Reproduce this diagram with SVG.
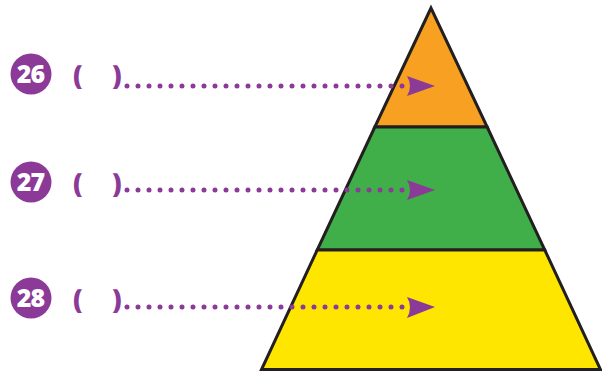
<svg xmlns="http://www.w3.org/2000/svg" width="602" height="371" viewBox="0 0 602 371">
<style>
.num{fill:#8B3A97}
.numt{font-family:"Open Sans","Liberation Sans",sans-serif;font-weight:800;font-size:25px;fill:#fff;text-anchor:middle;letter-spacing:-1px}
.par{font-family:"Open Sans","Liberation Sans",sans-serif;font-weight:800;font-size:27px;fill:#8B3A97}
.band{stroke:#231F20;stroke-width:3;stroke-linejoin:miter}
.dots{stroke:#8B3A97;stroke-width:5;stroke-linecap:round;stroke-dasharray:0 11;fill:none}
.head{fill:#8B3A97}
</style>
<rect width="602" height="371" fill="#fff"/>
<g id="pyramid">
  <g id="tier-top"><polygon class="band" points="431,8 374.8,127 487.2,127" fill="#F7A021"/></g>
  <g id="tier-middle"><polygon class="band" points="374.8,127 487.2,127 544.8,250 317.2,250" fill="#40AE49"/></g>
  <g id="tier-bottom"><polygon class="band" points="317.2,250 544.8,250 600.5,369.5 261.5,369.5" fill="#FFE600"/></g>
</g>
<g id="label-26">
  <circle class="num" cx="31" cy="74" r="20.5"/>
  <text class="numt" x="30.5" y="83">26</text>
  <text class="par" x="73" y="85">(</text>
  <text class="par" x="112" y="85">)</text>
</g>
<g id="label-27">
  <circle class="num" cx="31" cy="182" r="20.5"/>
  <text class="numt" x="30.5" y="191">27</text>
  <text class="par" x="73" y="193">(</text>
  <text class="par" x="112" y="193">)</text>
</g>
<g id="label-28">
  <circle class="num" cx="31" cy="298" r="20.5"/>
  <text class="numt" x="30.5" y="307">28</text>
  <text class="par" x="73" y="309">(</text>
  <text class="par" x="112" y="309">)</text>
</g>
<g id="connectors">
  <path class="dots" d="M127,86 H403"/>
  <path class="head" d="M407,76 L435,86 L407,96 Q413,86 407,76 Z"/>
  <path class="dots" d="M127,190 H403"/>
  <path class="head" d="M407,180 L435,190 L407,200 Q413,190 407,180 Z"/>
  <path class="dots" d="M127,307 H403"/>
  <path class="head" d="M407,297 L435,307 L407,318 Q413,307 407,297 Z"/>
</g>
</svg>
